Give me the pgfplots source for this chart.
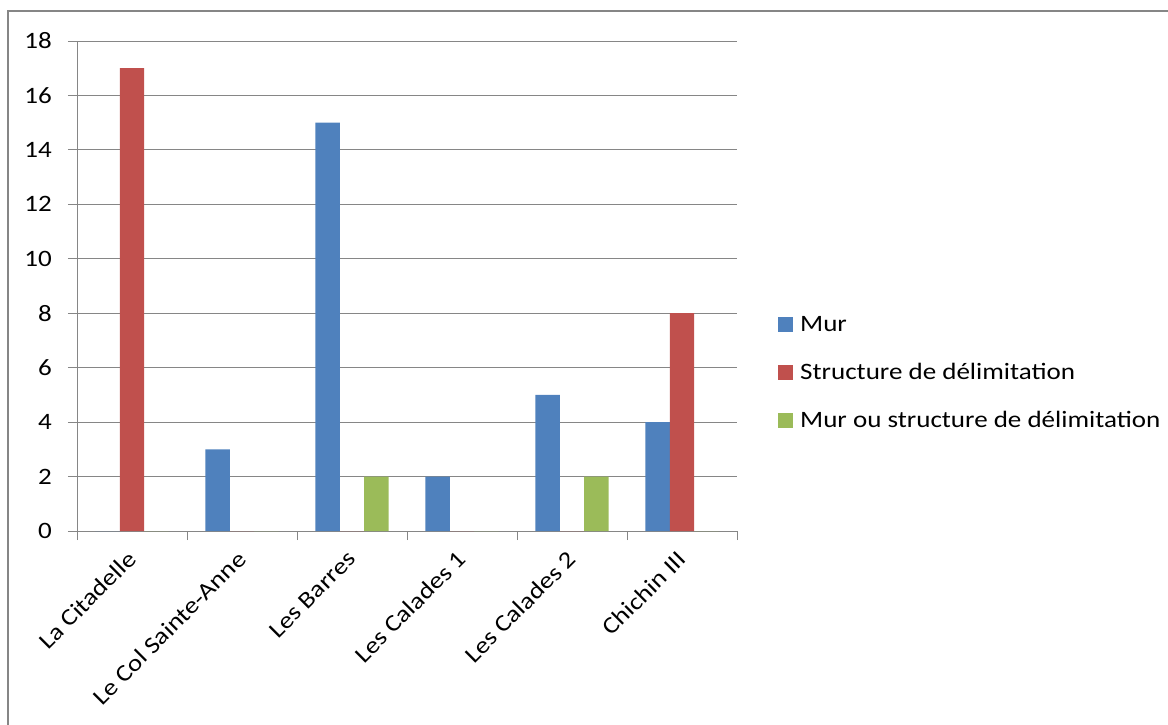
\documentclass[border=0pt]{standalone}
\usepackage{pgfplots}
\pgfplotsset{compat=1.18}
\usepackage{pgfplotstable}
\usepackage{fontspec}
\setmainfont{Carlito}[FakeStretch=1.15]
\definecolor{murblue}{HTML}{4F81BD}
\definecolor{strred}{HTML}{C0504D}
\definecolor{ougreen}{HTML}{9BBB59}
\definecolor{axgray}{HTML}{868686}

\pgfplotstableread{
x mur struct ou
0 0  17 0
1 3  0  0
2 15 0  2
3 2  0  0
4 5  0  2
5 4  8  0
}\sitedata

\begin{document}
\fontsize{23.5}{28}\selectfont
\begin{tikzpicture}
\useasboundingbox (0pt,0pt) rectangle (1168pt,-725pt);
\draw[axgray, line width=1.3pt] (8pt,-725pt) -- (8pt,-11pt) -- (1168pt,-11pt);
\begin{axis}[
    at={(77pt,-531pt)}, anchor=south west,
    scale only axis,
    width=660pt, height=490pt,
    ybar=0pt, bar width=24.4pt,
    xmin=-0.5, xmax=5.5,
    ymin=0, ymax=18,
    ytick={0,2,...,18},
    xtick={-0.5,0.5,...,5.5},
    xticklabel=\empty,
    extra x ticks={0,1,2,3,4,5},
    extra x tick labels={La Citadelle, Le Col Sainte-Anne, Les Barres, Les Calades 1, Les Calades 2, Chichin III},
    extra x tick style={major tick length=0pt,
        xticklabel style={yshift=-24pt, rotate=45, anchor=east, inner sep=0pt}},
    axis lines*=left,
    axis line style={-, draw=axgray, line width=1pt},
    ymajorgrids,
    grid style={draw=axgray, line width=1pt},
    tick align=outside,
    major tick length=9pt,
    tick style={draw=axgray, line width=1pt},
    /pgf/number format/assume math mode=true,
    tick label style={font=\fontsize{23.5}{28}\selectfont},
    yticklabel style={inner sep=0pt, xshift=-16pt},
    legend cell align=left,
    legend style={at={(1,0.5)}, anchor=west, xshift=41pt, yshift=-88pt,
        draw=none, fill=none, inner sep=0pt, column sep=7pt, row sep=28pt,
        font=\fontsize{23.5}{28}\selectfont,
        nodes={inner sep=0pt, text height=15pt, text depth=5pt}},
    legend image code/.code={\fill[#1, draw=none] (0pt,-6pt) rectangle (15pt,9pt);},
]
\addplot[fill=murblue, draw=none] table[x=x, y=mur] {\sitedata};
\addplot[fill=strred, draw=none] table[x=x, y=struct] {\sitedata};
\addplot[fill=ougreen, draw=none] table[x=x, y=ou] {\sitedata};
\legend{Mur, Structure de délimitation, Mur ou structure de délimitation}
\end{axis}
\end{tikzpicture}
\end{document}
